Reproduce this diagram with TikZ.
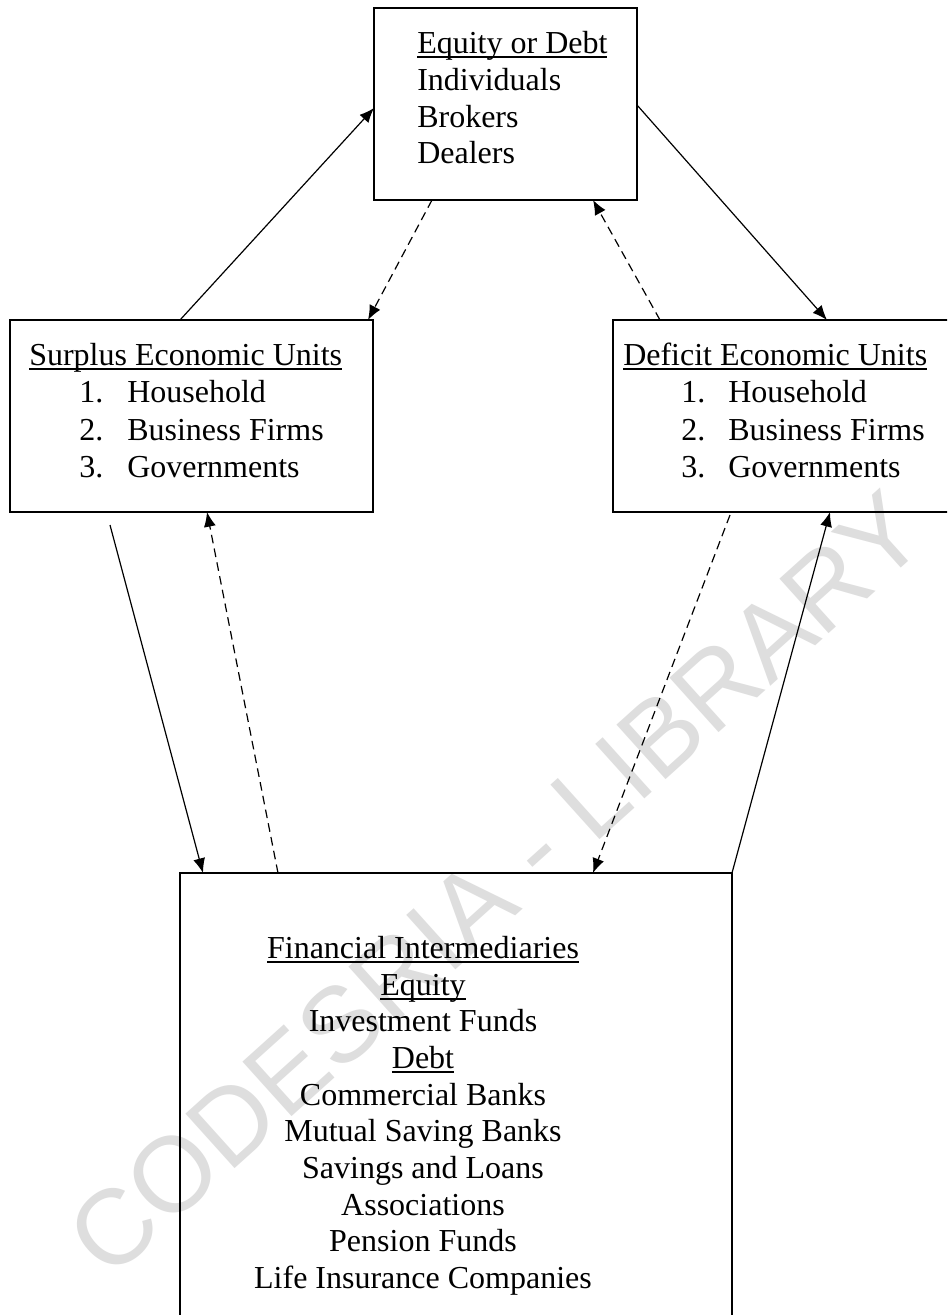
\documentclass[tikz,border=0pt]{standalone}
\usepackage{fontspec}
\setmainfont{Liberation Serif}
\newfontfamily\wmfont{Liberation Sans}
\usetikzlibrary{arrows.meta}
\newsavebox\ulbox
\newcommand\myul[1]{\sbox\ulbox{#1}\rlap{\rule[-3.4pt]{\wd\ulbox}{0.9pt}}\usebox\ulbox}
\begin{document}
\begin{tikzpicture}[x=0.75pt,y=-0.75pt,
  font=\fontsize{24}{27.5}\selectfont,
  boxn/.style={draw, line width=1.1pt, rectangle, inner sep=0pt},
  lbl/.style={anchor=base west, inner sep=0pt},
  ctr/.style={anchor=base, inner sep=0pt},
  solidarrow/.style={line width=0.9pt, -{Latex[length=11pt,width=9pt]}},
  dasharrow/.style={solidarrow, dash pattern=on 6.5pt off 4pt}]
\clip (0,0) rectangle (947,1315);
\fill[white] (0,0) rectangle (947,1315);
% watermark
\node[rotate=42, text=black!13, inner sep=0pt, font=\wmfont\fontsize{80}{80}\selectfont] (wm) at (496,884) {CODESRIA - LIBRARY};
% boxes
\node[boxn, minimum width=197.25pt, minimum height=144pt] (top) at (505.5,104) {};
\node[boxn, minimum width=272.25pt, minimum height=144pt] (surplus) at (191.5,416) {};
\node[boxn, minimum width=279pt, minimum height=144pt] (deficit) at (799,416) {};
\node[boxn, minimum width=414pt, minimum height=395.25pt] (bottom) at (456,1136.5) {};
% top box text
\node[lbl] (t1) at (417,53) {\myul{Equity or Debt}};
\node[lbl] (t2) at (417,90) {Individuals};
\node[lbl] (t3) at (417,127) {Brokers};
\node[lbl] (t4) at (417,163) {Dealers};
% surplus text
\node[lbl] (s0) at (29,365) {\myul{Surplus Economic Units}};
\node[lbl] (s1n) at (79,402) {1.};
\node[lbl] (s1) at (127,402) {Household};
\node[lbl] (s2n) at (79,440) {2.};
\node[lbl] (s2) at (127,440) {Business Firms};
\node[lbl] (s3n) at (79,477) {3.};
\node[lbl] (s3) at (127,477) {Governments};
% deficit text
\node[lbl] (d0) at (623,365) {\myul{Deficit Economic Units}};
\node[lbl] (d1n) at (681,402) {1.};
\node[lbl] (d1) at (728,402) {Household};
\node[lbl] (d2n) at (681,440) {2.};
\node[lbl] (d2) at (728,440) {Business Firms};
\node[lbl] (d3n) at (681,477) {3.};
\node[lbl] (d3) at (728,477) {Governments};
% bottom text
\node[ctr] (b1) at (423,958) {\myul{Financial Intermediaries}};
\node[ctr] (b2) at (423,995) {\myul{Equity}};
\node[ctr] (b3) at (423,1031.5) {Investment Funds};
\node[ctr] (b4) at (423,1068) {\myul{Debt}};
\node[ctr] (b5) at (423,1105) {Commercial Banks};
\node[ctr] (b6) at (423,1141.5) {Mutual Saving Banks};
\node[ctr] (b7) at (423,1178) {Savings and Loans};
\node[ctr] (b8) at (423,1215) {Associations};
\node[ctr] (b9) at (423,1251.5) {Pension Funds};
\node[ctr] (b10) at (423,1288) {Life Insurance Companies};
% connector end points
\coordinate (sA) at (180,320);  \coordinate (eA) at (374,108);
\coordinate (sB) at (432,200);  \coordinate (eB) at (368,320);
\coordinate (sC) at (637,105);  \coordinate (eC) at (827,320);
\coordinate (sD) at (660,320);  \coordinate (eD) at (593,200);
\coordinate (sE) at (110,525);  \coordinate (eE) at (203,873);
\coordinate (sF) at (278,873);  \coordinate (eF) at (207,512);
\coordinate (sG) at (730,515);  \coordinate (eG) at (593,873);
\coordinate (sH) at (732,873);  \coordinate (eH) at (830,512);
% connectors
\draw[solidarrow] (sA) -- (eA);
\draw[dasharrow] (sB) -- (eB);
\draw[solidarrow] (sC) -- (eC);
\draw[dasharrow] (sD) -- (eD);
\draw[solidarrow] (sE) -- (eE);
\draw[dasharrow] (sF) -- (eF);
\draw[dasharrow] (sG) -- (eG);
\draw[solidarrow] (sH) -- (eH);
\end{tikzpicture}
\end{document}
